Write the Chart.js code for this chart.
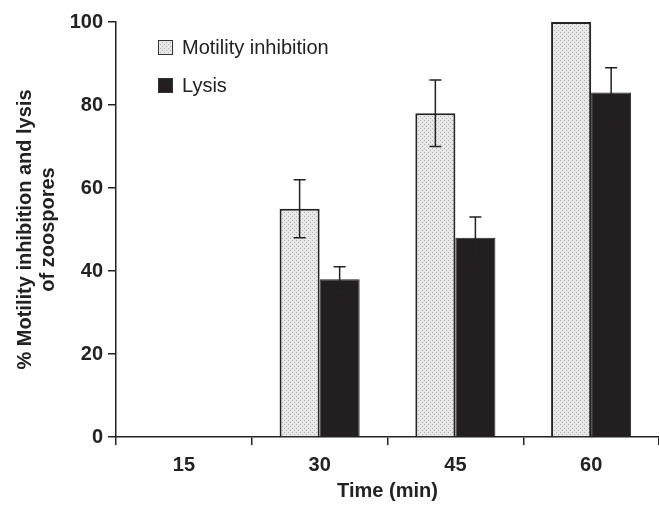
<!DOCTYPE html>
<html lang="en">
<head>
    <meta charset="UTF-8">
    <title>Motility inhibition and lysis of zoospores</title>
    <script src="https://cdn.jsdelivr.net/npm/chart.js"></script>
    <style>
        body { margin: 0; background: #fff; }
        #wrap { width: 659px; height: 507px; }
    </style>
</head>
<body>
    <div id="wrap"><canvas id="myChart" width="659" height="507"></canvas></div>

    <script>
        const times = ['15', '30', '45', '60'];
        const motility = [0, 55, 78, 100];
        const motilityErr = [0, 7, 8, 0];
        const lysis = [0, 38, 48, 83];
        const lysisErr = [0, 3, 5, 6];
        const yTicks = [0, 20, 40, 60, 80, 100];

        const FONT = '"Liberation Sans", Arial, sans-serif';

        // stippled grey fill for the motility bars
        function stipple() {
            const c = document.createElement('canvas');
            c.width = 4; c.height = 4;
            const g = c.getContext('2d');
            g.fillStyle = '#e8e8e8';
            g.fillRect(0, 0, 4, 4);
            g.fillStyle = '#b0b0b0';
            g.fillRect(0, 0, 1, 1);
            g.fillRect(2, 2, 1, 1);
            return g.createPattern(c, 'repeat');
        }
        const dotted = stipple();

        const errorBars = {
            id: 'errorBars',
            afterDatasetsDraw(chart) {
                const ctx = chart.ctx;
                const y = chart.scales.y;
                const errs = [motilityErr, lysisErr];
                chart.data.datasets.forEach((ds, i) => {
                    const meta = chart.getDatasetMeta(i);
                    meta.data.forEach((bar, j) => {
                        const e = errs[i][j];
                        if (!e) return;
                        const top = y.getPixelForValue(ds.data[j] + e);
                        const bot = y.getPixelForValue(ds.data[j] - e);
                        ctx.save();
                        ctx.strokeStyle = '#222';
                        ctx.lineWidth = 1.5;
                        ctx.beginPath();
                        ctx.moveTo(bar.x, top); ctx.lineTo(bar.x, bot);
                        ctx.moveTo(bar.x - 6, top); ctx.lineTo(bar.x + 6, top);
                        ctx.moveTo(bar.x - 6, bot); ctx.lineTo(bar.x + 6, bot);
                        ctx.stroke();
                        ctx.restore();
                    });
                });
            }
        };

        // legend drawn inside the plot area, top left
        const innerLegend = {
            id: 'innerLegend',
            afterDraw(chart) {
                const ctx = chart.ctx;
                const x0 = chart.chartArea.left + 42;
                const rows = [47, 85];
                ctx.save();
                ctx.font = '20px ' + FONT;
                ctx.textBaseline = 'middle';
                chart.data.datasets.forEach((ds, i) => {
                    const yy = rows[i];
                    ctx.fillStyle = ds.backgroundColor;
                    ctx.fillRect(x0, yy - 7, 15, 15);
                    ctx.strokeStyle = '#333';
                    ctx.lineWidth = 1;
                    ctx.strokeRect(x0 + 0.5, yy - 6.5, 14, 14);
                    ctx.fillStyle = '#222';
                    ctx.fillText(ds.label, x0 + 24, yy + 1);
                });
                ctx.restore();
            }
        };

        const ctx = document.getElementById('myChart').getContext('2d');
        new Chart(ctx, {
            type: 'bar',
            data: {
                labels: times,
                datasets: [
                    {
                        label: 'Motility inhibition',
                        data: motility,
                        backgroundColor: dotted,
                        borderColor: '#222',
                        borderWidth: 2,
                        categoryPercentage: 0.59,
                        barPercentage: 1.0
                    },
                    {
                        label: 'Lysis',
                        data: lysis,
                        backgroundColor: '#231f20',
                        borderColor: '#231f20',
                        borderWidth: 1,
                        categoryPercentage: 0.59,
                        barPercentage: 1.0
                    }
                ]
            },
            options: {
                responsive: false,
                animation: false,
                layout: { padding: { top: 22, right: 0, left: 0, bottom: 0 } },
                plugins: {
                    legend: { display: false },
                    tooltip: { enabled: false }
                },
                scales: {
                    x: {
                        grid: {
                            offset: true,
                            drawOnChartArea: false,
                            tickLength: 8,
                            color: '#222',
                            lineWidth: 1.5
                        },
                        border: { color: '#222', width: 1.5 },
                        ticks: {
                            color: '#222',
                            font: { family: FONT, size: 20, weight: 'bold' },
                            padding: 8
                        },
                        title: {
                            display: true,
                            text: 'Time (min)',
                            color: '#222',
                            font: { family: FONT, size: 20, weight: 'bold' },
                            padding: { top: 5 }
                        },
                        afterFit(scale) { scale.height = 70; }
                    },
                    y: {
                        min: 0,
                        max: 100,
                        afterBuildTicks(scale) {
                            scale.ticks = yTicks.map(v => ({ value: v }));
                        },
                        grid: {
                            drawOnChartArea: false,
                            tickLength: 8,
                            color: '#222',
                            lineWidth: 1.5
                        },
                        border: { color: '#222', width: 1.5 },
                        ticks: {
                            color: '#222',
                            font: { family: FONT, size: 20, weight: 'bold' },
                            padding: 5
                        },
                        title: {
                            display: true,
                            text: ['% Motility inhibition and lysis', 'of zoospores'],
                            color: '#222',
                            font: { family: FONT, size: 20, weight: 'bold', lineHeight: 1.15 },
                            padding: { top: 14, bottom: 8 }
                        },
                        afterFit(scale) { scale.width = 116; }
                    }
                }
            },
            plugins: [errorBars, innerLegend]
        });
    </script>
</body>
</html>
